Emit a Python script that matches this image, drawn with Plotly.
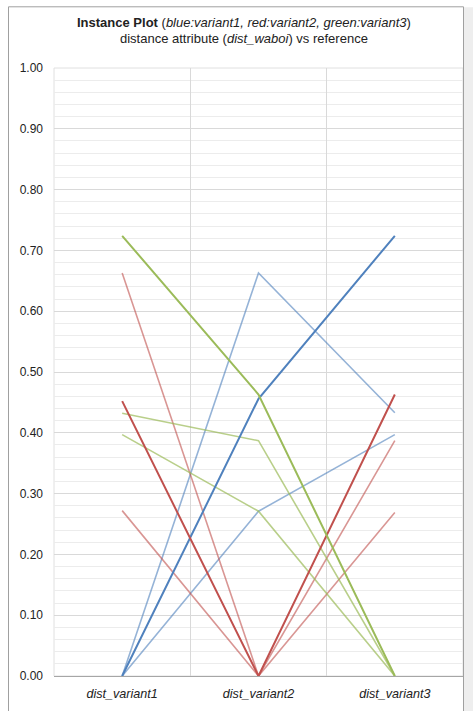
import plotly.graph_objects as go

categories = ["dist_variant1", "dist_variant2", "dist_variant3"]

# each instance: values at the three categories
blue_series = [
    [0.0, 0.456, 0.724],
    [0.0, 0.663, 0.433],
    [0.0, 0.271, 0.397],
]
red_series = [
    [0.452, 0.0, 0.463],
    [0.663, 0.0, 0.387],
    [0.272, 0.0, 0.269],
]
green_series = [
    [0.724, 0.463, 0.0],
    [0.432, 0.387, 0.0],
    [0.397, 0.271, 0.0],
]

y_ticks = [0.0, 0.1, 0.2, 0.3, 0.4, 0.5, 0.6, 0.7, 0.8, 0.9, 1.0]

W, H = 473, 711
L, R, T, B = 54, 10, 68, 32
PW, PH = W - L - R, H - T - B

def px_x(x):
    return (x - L) / PW

def px_y(y):
    return (H - B - y) / PH

fig = go.Figure()

palette = {
    "blue": ("rgba(79,129,189,1)", "rgba(79,129,189,0.6)"),
    "red": ("rgba(192,80,77,1)", "rgba(192,80,77,0.6)"),
    "green": ("rgba(155,187,89,1)", "rgba(155,187,89,0.7)"),
}

groups = [("blue", blue_series), ("red", red_series), ("green", green_series)]

# light lines first
for name, series in groups:
    for vals in series[1:]:
        fig.add_trace(go.Scatter(x=categories, y=vals, mode="lines",
                                 line=dict(color=palette[name][1], width=1.6),
                                 showlegend=False, hoverinfo="skip"))
for name, series in groups:
    vals = series[0]
    fig.add_trace(go.Scatter(x=categories, y=vals, mode="lines",
                             line=dict(color=palette[name][0], width=2),
                             showlegend=False, hoverinfo="skip"))

fig.update_layout(
    width=W, height=H,
    margin=dict(l=L, r=R, t=T, b=B),
    paper_bgcolor="white",
    plot_bgcolor="white",
    font=dict(family="Liberation Sans, Arial, sans-serif", size=12, color="#222"),
    xaxis=dict(
        type="category",
        range=[-0.5, 2.5],
        tickson="boundaries",
        showgrid=True,
        gridcolor="#d9d9d9",
        gridwidth=1,
        ticks="",
        tickfont=dict(size=12.6, color="#222", family="Liberation Sans, Arial, sans-serif",
                      style="italic"),
        ticklabelstandoff=6,
        showline=True,
        linecolor="#a6a6a6",
        linewidth=1,
        mirror=False,
        zeroline=False,
        fixedrange=True,
    ),
    yaxis=dict(
        range=[0, 1],
        tickvals=y_ticks,
        tickformat=".2f",
        showgrid=True,
        gridcolor="#d9d9d9",
        gridwidth=1,
        minor=dict(dtick=0.02, showgrid=True, gridcolor="#ececec", gridwidth=1),
        ticks="",
        ticklabelstandoff=10,
        tickfont=dict(size=12, color="#222"),
        showline=False,
        zeroline=False,
        fixedrange=True,
    ),
    shapes=[
        # plot area border
        dict(type="rect", xref="paper", yref="paper", x0=0, x1=1, y0=0, y1=1,
             line=dict(color="#e0e0e0", width=1), layer="below"),
        # outer panel frame
        dict(type="rect", xref="paper", yref="paper",
             x0=px_x(8.5), x1=px_x(463.5), y0=px_y(730), y1=px_y(6.5),
             line=dict(color="#a0a0a0", width=1), layer="below"),
        # right shadow
        dict(type="rect", xref="paper", yref="paper",
             x0=px_x(464), x1=px_x(473), y0=px_y(730), y1=px_y(7),
             fillcolor="#eeeeee", line=dict(width=0), layer="below"),
    ],
    annotations=[
        dict(xref="paper", yref="paper", x=px_x(243.5), y=px_y(22),
             text="<b>Instance Plot</b> (<i>blue:variant1, red:variant2, green:variant3</i>)",
             showarrow=False, xanchor="center", yanchor="middle",
             font=dict(size=13, color="#222")),
        dict(xref="paper", yref="paper", x=px_x(243.5), y=px_y(38),
             text="distance attribute (<i>dist_waboi</i>) vs reference",
             showarrow=False, xanchor="center", yanchor="middle",
             font=dict(size=13, color="#222")),
    ],
)

fig.write_html("out.html", config={"displayModeBar": False},
               post_script="document.body.style.margin='0';")
